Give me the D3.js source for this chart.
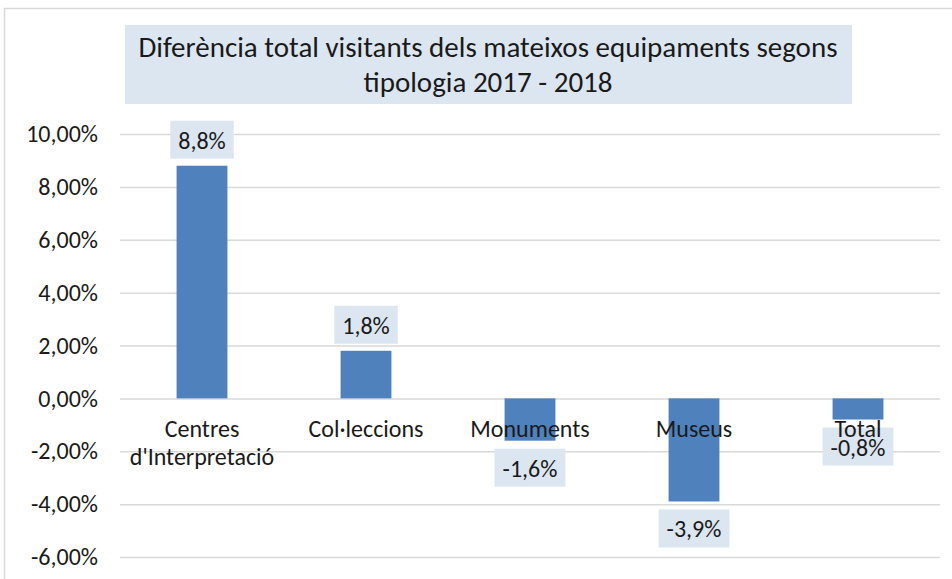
<!DOCTYPE html>
<html>
<head>
<meta charset="utf-8">
<script src="https://cdn.jsdelivr.net/npm/d3@7"></script>
<style>
  html, body { margin: 0; padding: 0; background: #fff; }
  svg { display: block; }
</style>
</head>
<body>
<svg width="952" height="579"></svg>
<script>
// Chart data
const categories = ["Centres\nd'Interpretació", 'Col·leccions', 'Monuments', 'Museus', 'Total'];
const values = [8.8, 1.8, -1.6, -3.9, -0.8];
const valueLabels = ['8,8%', '1,8%', '-1,6%', '-3,9%', '-0,8%'];
const yTicks = [10, 8, 6, 4, 2, 0, -2, -4, -6];
const titleLines = ['Diferència total visitants dels mateixos equipaments segons', 'tipologia 2017 - 2018'];

// Style values
const fontFamily = 'Calibri, Carlito, "Liberation Sans", Arial, sans-serif';
const textColor = '#1a1a1a';
const barColor = '#4f81bd';
const boxColor = '#dce6f1';
const gridColor = '#d9d9d9';
const textSize = 24;

const svg = d3.select('svg');

// Outer chart border
svg.append('rect')
  .attr('x', 4.5).attr('y', 8.5)
  .attr('width', 1000).attr('height', 700)
  .attr('fill', '#fff')
  .attr('stroke', gridColor)
  .attr('stroke-width', 1.5);

const locale = d3.formatLocale({ decimal: ',', thousands: '.', grouping: [3], currency: ['', '€'], minus: '-' });
const tickFormat = (d) => locale.format('.2f')(d) + '%';

const x = d3.scaleBand()
  .domain(categories)
  .range([120, 940])
  .paddingInner(0.69)
  .paddingOuter(0.345);

const y = d3.scaleLinear()
  .domain([-6, 10])
  .range([557, 134]);

// Gridlines + y axis labels
const yAxis = svg.append('g')
  .attr('transform', 'translate(120,0)')
  .call(d3.axisLeft(y).tickValues(yTicks).tickFormat(tickFormat).tickSize(-820).tickPadding(22));
yAxis.select('.domain').remove();
yAxis.selectAll('.tick line')
  .attr('stroke', gridColor)
  .attr('stroke-width', 1.5);
yAxis.selectAll('.tick text')
  .attr('font-family', fontFamily)
  .attr('font-size', textSize)
  .attr('fill', textColor);

// Bars
svg.append('g')
  .selectAll('rect')
  .data(values)
  .join('rect')
  .attr('x', (d, i) => x(categories[i]))
  .attr('width', x.bandwidth())
  .attr('y', (d) => y(Math.max(0, d)))
  .attr('height', (d) => Math.abs(y(d) - y(0)))
  .attr('fill', barColor);

// Data label boxes and texts (boxes go under the category labels, like the original)
const boxLayer = svg.append('g');
const catLayer = svg.append('g');
const labelLayer = svg.append('g');

categories.forEach((d) => {
  const cx = x(d) + x.bandwidth() / 2;
  catLayer.append('text')
    .attr('text-anchor', 'middle')
    .attr('font-family', fontFamily)
    .attr('font-size', textSize)
    .attr('fill', textColor)
    .selectAll('tspan')
    .data(d.split('\n'))
    .join('tspan')
    .attr('x', cx)
    .attr('y', (line, j) => y(0) + 39 + j * 28)
    .text((line) => line);
});

values.forEach((v, i) => {
  const cx = x(categories[i]) + x.bandwidth() / 2;
  const boxH = 38;
  const boxTop = v >= 0 ? y(v) - 7 - boxH : y(v) + 8;
  const box = boxLayer.append('rect').attr('fill', boxColor);
  const t = labelLayer.append('text')
    .attr('x', cx)
    .attr('y', boxTop + 28)
    .attr('text-anchor', 'middle')
    .attr('font-family', fontFamily)
    .attr('font-size', textSize)
    .attr('fill', textColor)
    .text(valueLabels[i]);
  const w = t.node().getComputedTextLength() + 16;
  box.attr('x', cx - w / 2).attr('y', boxTop).attr('width', w).attr('height', boxH);
});

// Title box
svg.append('rect')
  .attr('x', 125).attr('y', 25)
  .attr('width', 727).attr('height', 79)
  .attr('fill', boxColor);
svg.append('text')
  .attr('text-anchor', 'middle')
  .attr('font-family', fontFamily)
  .attr('font-size', 29)
  .attr('fill', textColor)
  .selectAll('tspan')
  .data(titleLines)
  .join('tspan')
  .attr('x', 488)
  .attr('y', (d, i) => 57 + i * 35)
  .text((d) => d);
</script>
</body>
</html>
